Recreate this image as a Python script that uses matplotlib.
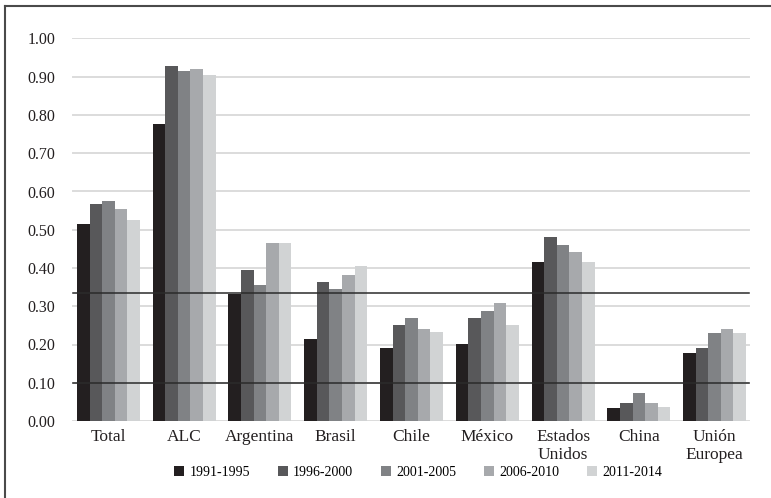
import matplotlib
matplotlib.use("Agg")
import matplotlib.pyplot as plt
import numpy as np
from matplotlib.lines import Line2D
from matplotlib.patches import Patch

categories = ["Total", "ALC", "Argentina", "Brasil", "Chile", "México",
              "Estados\nUnidos", "China", "Unión\nEuropea"]
periods = ["1991-1995", "1996-2000", "2001-2005", "2006-2010", "2011-2014"]
s1991 = [0.515, 0.776, 0.333, 0.214, 0.191, 0.201, 0.416, 0.034, 0.178]
s1996 = [0.567, 0.928, 0.395, 0.363, 0.251, 0.269, 0.481, 0.047, 0.191]
s2001 = [0.575, 0.915, 0.356, 0.345, 0.269, 0.288, 0.460, 0.073, 0.230]
s2006 = [0.554, 0.920, 0.465, 0.382, 0.240, 0.309, 0.442, 0.047, 0.240]
s2011 = [0.525, 0.905, 0.465, 0.405, 0.233, 0.251, 0.416, 0.037, 0.230]
ref_lines = [0.10, 0.335]
yticks = [0.0, 0.1, 0.2, 0.3, 0.4, 0.5, 0.6, 0.7, 0.8, 0.9, 1.0]
ytick_labels = ["0.00", "0.10", "0.20", "0.30", "0.40", "0.50", "0.60",
                "0.70", "0.80", "0.90", "1.00"]

series = [s1991, s1996, s2001, s2006, s2011]
colors = ["#231f20", "#58585a", "#808285", "#a7a9ac", "#d1d3d4"]

plt.rcParams['font.family'] = ['Liberation Serif', 'DejaVu Serif']

W, H = 771, 498
fig = plt.figure(figsize=(W / 100, H / 100), dpi=100)
ax_left, ax_right = 70.5, 752.5
ax_top, ax_bot = 38.5, 421
ax = fig.add_axes([ax_left / W, (H - ax_bot) / H, (ax_right - ax_left) / W,
                   (ax_bot - ax_top) / H])

x = np.arange(len(categories))
bw = 0.166
for i, (vals, c) in enumerate(zip(series, colors)):
    ax.bar(x + (i - 2) * bw, vals, width=bw, color=c, label=periods[i],
           zorder=2, linewidth=0)

gx0 = (73 - ax_left) / (ax_right - ax_left)
gx1 = (749 - ax_left) / (ax_right - ax_left)
for t in yticks:
    ax.axhline(t, xmin=gx0, xmax=gx1, color="#dcdcdc", lw=1.4, zorder=1)
for r in ref_lines:
    ax.axhline(r, xmin=gx0, xmax=gx1, color="#2b2b2b", lw=1.1, zorder=3)

ax.set_xlim(-0.5, len(categories) - 0.5)
ax.set_ylim(0, 1.0)
ax.set_yticks(yticks)
ax.set_yticklabels(ytick_labels, fontsize=11.5, color="#231f20")
ax.set_xticks(x)
ax.set_xticklabels(categories, fontsize=12.5, color="#231f20", linespacing=1.12)
ax.tick_params(axis="y", length=0, pad=11)
ax.tick_params(axis="x", length=0, pad=6)
for s in ax.spines.values():
    s.set_visible(False)

handles = [Patch(facecolor=c, edgecolor="none") for c in colors]
fig.legend(handles, periods, loc="center", ncol=5,
           bbox_to_anchor=(418 / W, 1 - 472 / H), frameon=False,
           fontsize=10, handlelength=0.75, handleheight=0.75,
           handletextpad=0.35, columnspacing=2.0)

# figure border (top and left visible)
fig.add_artist(Line2D([5 / W, 1.0], [1 - 6.5 / H, 1 - 6.5 / H],
                      transform=fig.transFigure, color="#4a4a4a", lw=1.5))
fig.add_artist(Line2D([5 / W, 5 / W], [0, 1 - 6.5 / H],
                      transform=fig.transFigure, color="#4a4a4a", lw=1.5))

fig.savefig("out.png", dpi=100)
